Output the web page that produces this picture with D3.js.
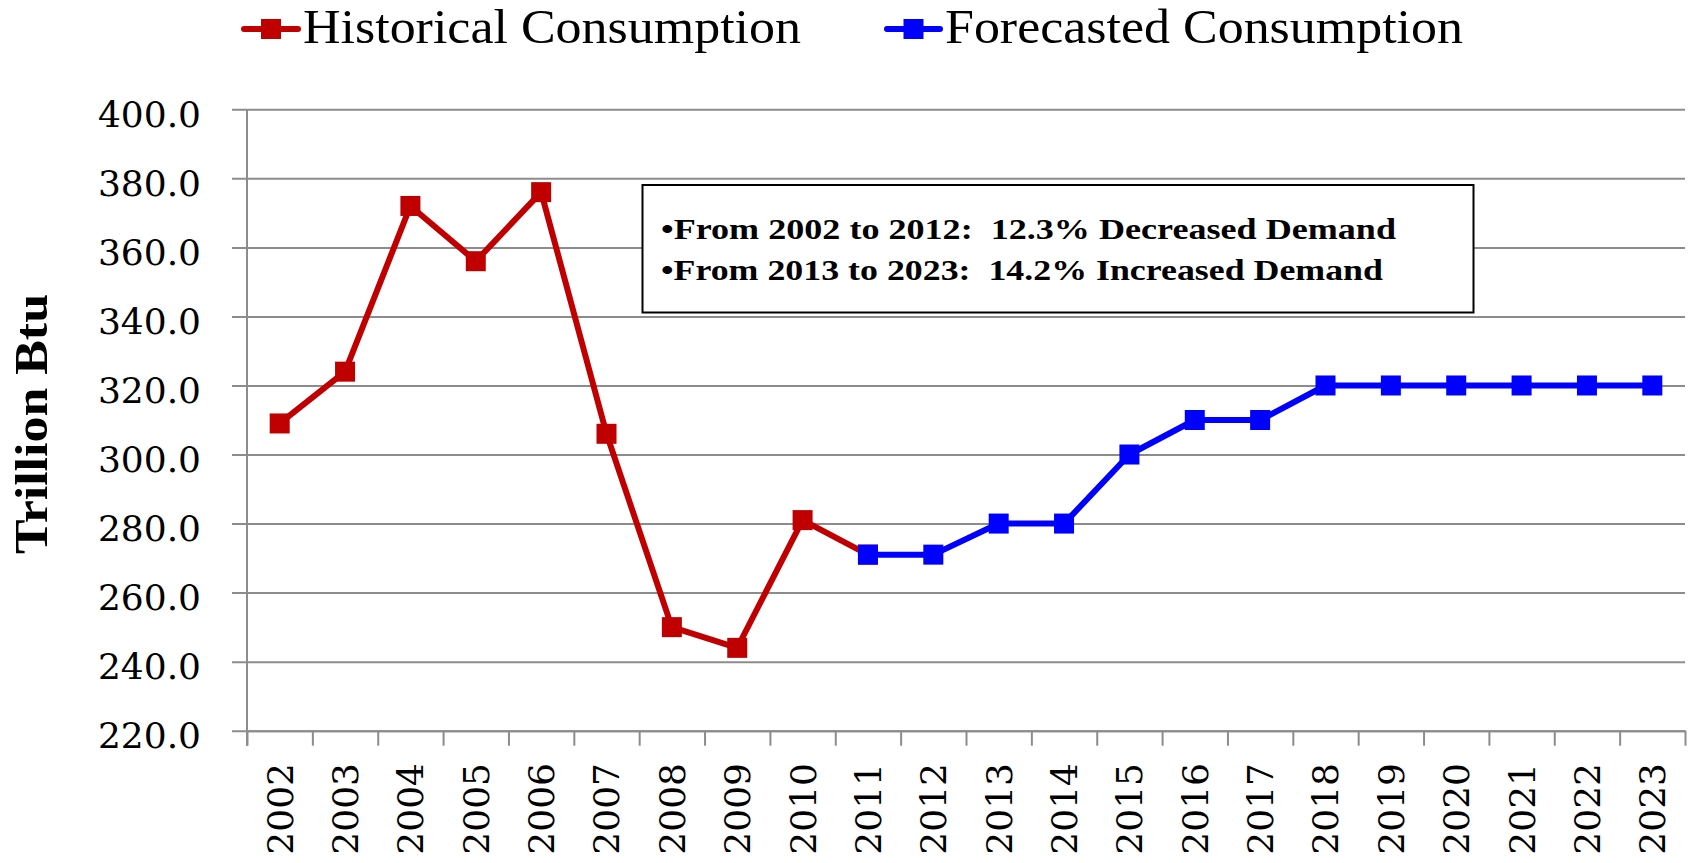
<!DOCTYPE html>
<html>
<head>
<meta charset="utf-8">
<script src="https://cdn.jsdelivr.net/npm/d3@7"></script>
<style>
  body { margin: 0; background: #fff; }
  svg { display: block; }
</style>
</head>
<body>
<script>
// chart data
var years = ["2002","2003","2004","2005","2006","2007","2008","2009","2010","2011","2012",
             "2013","2014","2015","2016","2017","2018","2019","2020","2021","2022","2023"]
var historical = [309, 324, 372, 356, 376, 306, 250, 244, 281, 271]          // 2002-2011
var forecastYears = years.slice(9)                                             // 2011-2023
var forecast = [271, 271, 280, 280, 300, 310, 310, 320, 320, 320, 320, 320, 320]
var yTicks = [220, 240, 260, 280, 300, 320, 340, 360, 380, 400]
var seriesNames = ["Historical Consumption", "Forecasted Consumption"]
var notes = ["\u2022From 2002 to 2012:  12.3% Decreased Demand",
             "\u2022From 2013 to 2023:  14.2% Increased Demand"]

var W = 1696, H = 863
var plotL = 247, plotR = 1685, plotT = 109.3, plotB = 730.7
var red = "#c00000", blue = "#0000ff", grid = "#8c8c8c"

var svg = d3.select("body").append("svg")
    .attr("width", W)
    .attr("height", H)

var x = d3.scaleBand().domain(years).range([plotL, plotR]).padding(0)
var xEdges = d3.scaleLinear().domain([0, years.length]).range([plotL, plotR])
var y = d3.scaleLinear().domain([220, 400]).range([plotB, plotT])

// gridlines + y labels in one axis (ticks run from the right edge to left of the axis)
var yAxis = svg.append("g")
    .attr("transform", "translate(" + plotR + ",0)")
    .call(d3.axisLeft(y).tickValues(yTicks).tickFormat(d3.format(".1f"))
        .tickSize(plotR - 232).tickPadding(31))
yAxis.select(".domain").remove()
yAxis.selectAll("line").attr("stroke", grid).attr("stroke-width", 2)
yAxis.selectAll("text")
    .attr("font-family", "DejaVu Serif")
    .attr("font-size", 36)
    .attr("fill", "#000")
    .attr("dy", 17)

// y axis line
svg.append("line")
    .attr("x1", plotL).attr("x2", plotL)
    .attr("y1", plotT).attr("y2", plotB + 15)
    .attr("stroke", grid).attr("stroke-width", 2)

// x ticks between categories
var xAxis = svg.append("g")
    .attr("transform", "translate(0," + plotB + ")")
    .call(d3.axisBottom(xEdges).tickValues(d3.range(years.length + 1))
        .tickFormat("").tickSize(15).tickSizeOuter(0))
xAxis.select(".domain").attr("stroke", grid).attr("stroke-width", 2)
xAxis.selectAll("line").attr("stroke", grid).attr("stroke-width", 2)

// x labels, rotated
svg.append("g").selectAll("text")
    .data(years)
    .enter().append("text")
    .attr("transform", function(d) {
        return "translate(" + (x(d) + x.bandwidth() / 2) + ",763) rotate(-90)"
    })
    .attr("text-anchor", "end")
    .attr("dy", "0.36em")
    .attr("font-family", "DejaVu Serif")
    .attr("font-size", 36)
    .text(function(d) { return d })

// y title
svg.append("text")
    .attr("transform", "translate(47," + ((plotT + plotB) / 2 + 4) + ") rotate(-90)")
    .attr("text-anchor", "middle")
    .attr("font-family", "Liberation Serif")
    .attr("font-weight", "bold")
    .attr("font-size", 46)
    .attr("textLength", 260)
    .attr("lengthAdjust", "spacingAndGlyphs")
    .text("Trillion Btu")

// annotation box
var box = svg.append("g")
box.append("rect")
    .attr("x", 642.5).attr("y", 185)
    .attr("width", 831).attr("height", 127.5)
    .attr("fill", "#fff").attr("stroke", "#000").attr("stroke-width", 2)
box.selectAll("text")
    .data(notes)
    .enter().append("text")
    .attr("x", 661)
    .attr("y", function(d, i) { return 239 + i * 41 })
    .attr("font-family", "Liberation Serif")
    .attr("font-weight", "bold")
    .attr("font-size", 29)
    .attr("textLength", function(d, i) { return i == 0 ? 735 : 722 })
    .attr("lengthAdjust", "spacingAndGlyphs")
    .style("white-space", "pre")
    .text(function(d) { return d })

// series
var line = d3.line()
    .x(function(d) { return x(d[0]) + x.bandwidth() / 2 })
    .y(function(d) { return y(d[1]) })

function drawSeries(cats, vals, color) {
    var pts = cats.map(function(c, i) { return [c, vals[i]] })
    svg.append("path")
        .datum(pts)
        .attr("fill", "none")
        .attr("stroke", color)
        .attr("stroke-width", 6)
        .attr("stroke-linejoin", "round")
        .attr("d", line)
    svg.append("g").selectAll("rect")
        .data(pts)
        .enter().append("rect")
        .attr("x", function(d) { return x(d[0]) + x.bandwidth() / 2 - 10 })
        .attr("y", function(d) { return y(d[1]) - 10 })
        .attr("width", 20).attr("height", 20)
        .attr("fill", color)
}
drawSeries(years.slice(0, historical.length), historical, red)
drawSeries(forecastYears, forecast, blue)

// legend
var legend = [
    { name: seriesNames[0], color: red, x1: 244, x2: 298, tx: 303, tw: 498 },
    { name: seriesNames[1], color: blue, x1: 887, x2: 940, tx: 945, tw: 518 }
]
var lg = svg.append("g").selectAll("g")
    .data(legend)
    .enter().append("g")
lg.append("line")
    .attr("x1", function(d) { return d.x1 })
    .attr("x2", function(d) { return d.x2 })
    .attr("y1", 29).attr("y2", 29)
    .attr("stroke", function(d) { return d.color })
    .attr("stroke-width", 6)
    .attr("stroke-linecap", "round")
lg.append("rect")
    .attr("x", function(d) { return (d.x1 + d.x2) / 2 - 10 })
    .attr("y", 19)
    .attr("width", 20).attr("height", 20)
    .attr("fill", function(d) { return d.color })
lg.append("text")
    .attr("x", function(d) { return d.tx })
    .attr("y", 43)
    .attr("font-family", "Liberation Serif")
    .attr("font-size", 48)
    .attr("textLength", function(d) { return d.tw })
    .attr("lengthAdjust", "spacingAndGlyphs")
    .text(function(d) { return d.name })
</script>
</body>
</html>
